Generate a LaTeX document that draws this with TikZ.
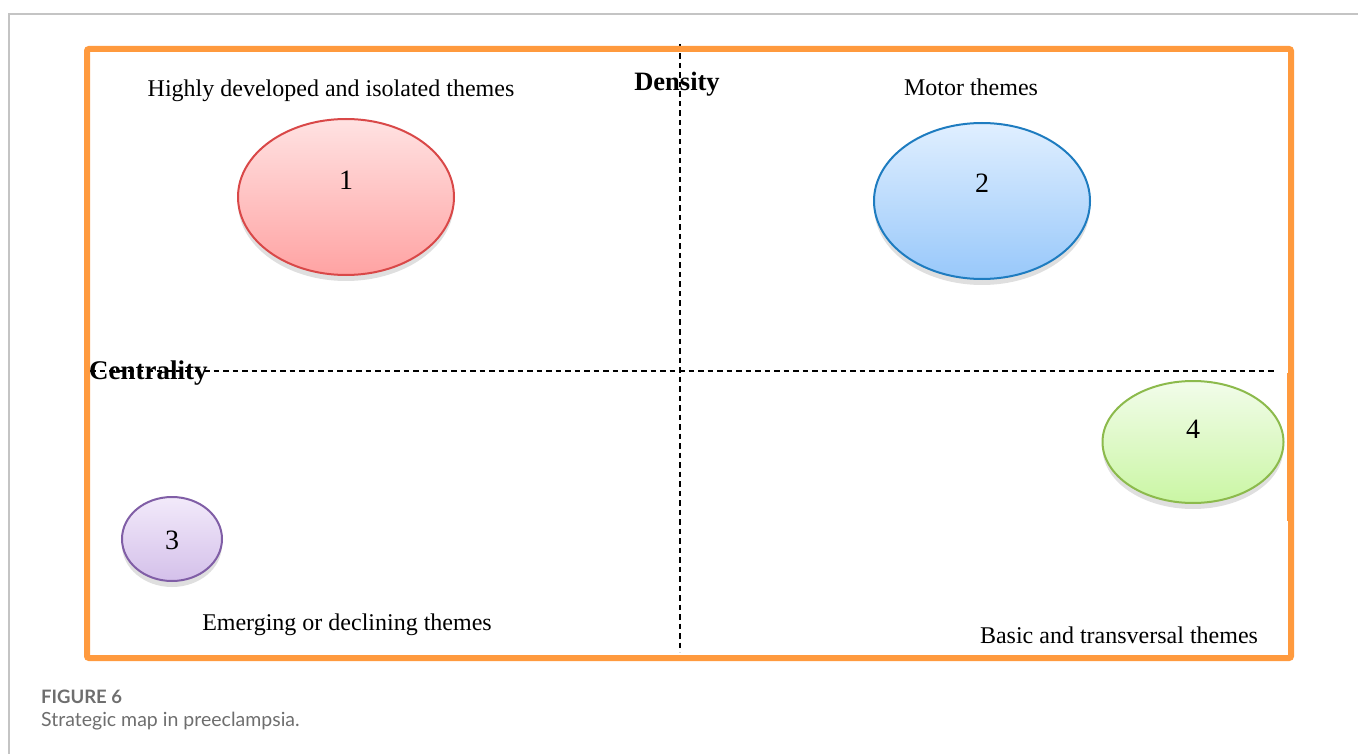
\documentclass[tikz,border=0pt]{standalone}
\usepackage{fontspec}
\setmainfont{Liberation Serif}
\newfontfamily\capfont{Lato}
\usetikzlibrary{shapes.geometric,shadows}
\definecolor{frameorange}{HTML}{FF9A3E}
\definecolor{pagegray}{HTML}{C4C4C4}
\definecolor{capgray}{HTML}{6E6E6E}
\tikzset{
  x=1pt, y=-1pt,
  quadrant/.style={line width=6pt, draw=frameorange, rounded corners=2pt},
  axisline/.style={line width=1.5pt, dash pattern=on 5.5pt off 4pt, black},
  bubble/.style={ellipse, inner sep=0pt, line width=2pt,
     drop shadow={opacity=0.25, shadow xshift=0pt, shadow yshift=-6pt}},
  lbl/.style={font=\fontsize{24}{28}\selectfont, inner sep=0pt},
  axislbl/.style={font=\fontsize{27}{30}\selectfont\bfseries, inner sep=0pt},
  num/.style={font=\fontsize{28}{30}\selectfont, inner sep=0pt},
}
\begin{document}
\begin{tikzpicture}
\useasboundingbox (0,0) rectangle (1358,754);
% page frame
\coordinate (pg1) at (9,754);
\coordinate (pg2) at (9,14);
\coordinate (pg3) at (1358,14);
\draw[pagegray, line width=1.5pt] (pg1) -- (pg2) -- (pg3);
% axes
\coordinate (vtop) at (680,44);
\coordinate (vbot) at (680,652);
\coordinate (hl) at (90,371);
\coordinate (hr) at (1277,371);
\draw[axisline] (vtop) -- (vbot);
\draw[axisline] (hl) -- (hr);
% orange frame
\draw[quadrant] (87,49) rectangle (1291,658);
\coordinate (rs1) at (1290,373);
\coordinate (rs2) at (1290,521);
\draw[frameorange, line width=6pt] (rs1) -- (rs2);
% labels
\node[lbl] (t1) at (331,91) {Highly developed and isolated themes};
\node[lbl] (t2) at (971,87) {Motor themes};
\node[lbl] (t3) at (347,625) {Emerging or declining themes};
\node[lbl] (t4) at (1119,635) {Basic and transversal themes};
\node[axislbl, font=\fontsize{26.5}{30}\selectfont\bfseries] (dens) at (677,84) {Density};
\node[axislbl, anchor=west] (cent) at (89,373) {Centrality};
% bubbles
\node[bubble, draw={rgb,255:red,217;green,72;blue,72}, top color={rgb,255:red,255;green,226;blue,226}, bottom color={rgb,255:red,255;green,163;blue,163},
  minimum width=216pt, minimum height=156pt] (e1) at (346,197) {};
\node[num] (n1) at (346,180) {1};
\node[bubble, draw={rgb,255:red,30;green,124;blue,192}, top color={rgb,255:red,224;green,239;blue,255}, bottom color={rgb,255:red,152;green,200;blue,250},
  minimum width=216pt, minimum height=156pt] (e2) at (982,201) {};
\node[num] (n2) at (982,183) {2};
\node[bubble, draw={rgb,255:red,128;green,94;blue,166}, top color={rgb,255:red,242;green,234;blue,250}, bottom color={rgb,255:red,212;green,192;blue,234},
  minimum width=100pt, minimum height=84pt] (e3) at (172,539) {};
\node[num] (n3) at (172,540) {3};
\node[bubble, draw={rgb,255:red,140;green,186;blue,76}, top color={rgb,255:red,242;green,252;blue,234}, bottom color={rgb,255:red,202;green,246;blue,164},
  minimum width=181pt, minimum height=122pt] (e4) at (1193,442) {};
\node[num] (n4) at (1193,429) {4};
% caption
\node[anchor=west, inner sep=0pt, text=capgray, font=\capfont\bfseries\fontsize{18.5}{20}\selectfont] (fig) at (41,697) {FIGURE 6};
\node[anchor=west, inner sep=0pt, text=capgray, font=\capfont\fontsize{19.5}{22}\selectfont] (cap) at (41,721) {Strategic map in preeclampsia.};
\end{tikzpicture}
\end{document}
